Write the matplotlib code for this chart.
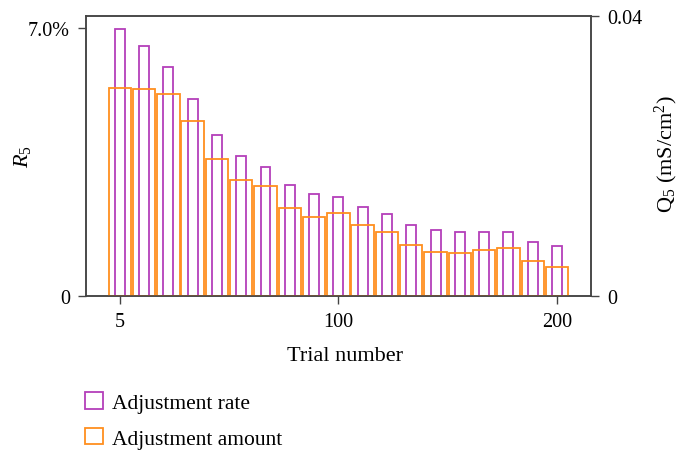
import numpy as np
import matplotlib
matplotlib.use("Agg")
import matplotlib.pyplot as plt
from matplotlib.patches import Patch

plt.rcParams['font.family'] = ['Liberation Serif', 'DejaVu Serif']
plt.rcParams['mathtext.fontset'] = 'custom'
plt.rcParams['mathtext.rm'] = 'Liberation Serif'
plt.rcParams['mathtext.it'] = 'Liberation Serif:italic'

# adjustment rate (%), left axis
rate = [6.97, 6.52, 5.99, 5.15, 4.20, 3.66, 3.37, 2.89, 2.66, 2.59,
        2.32, 2.13, 1.86, 1.73, 1.67, 1.67, 1.67, 1.42, 1.31]
# adjustment amount (mS/cm^2), right axis
amount = [0.0297, 0.0295, 0.0288, 0.0250, 0.0195, 0.0166, 0.0157, 0.0125, 0.0113, 0.0119,
          0.0102, 0.0092, 0.0073, 0.0063, 0.0061, 0.0065, 0.0069, 0.0050, 0.0041]
tick_idx = [0, 9, 18]
tick_labels = ['5', '100', '200']

purple = '#b43fba'
orange = '#ff8f1f'
spine_c = '#444444'

x = np.arange(len(rate))

fig = plt.figure(figsize=(6.8, 4.52), dpi=100)
ax = fig.add_axes([0.1265, 0.343, 0.7426, 0.6195])
ax2 = ax.twinx()

ax.bar(x, rate, width=0.41, fill=False, edgecolor=purple, linewidth=1.3)
ax2.bar(x, amount, width=0.92, fill=False, edgecolor=orange, linewidth=1.3)

ax.set_xlim(-1.39, 19.4)
ax.set_ylim(0, 7.31)
ax2.set_ylim(0, 0.04)

ax.set_xticks(tick_idx)
ax.set_xticklabels(tick_labels)
ax.set_yticks([0, 7.0])
ax.set_yticklabels(['0', '7.0%'])
ax2.set_yticks([0, 0.04])
ax2.set_yticklabels(['0', '0.04'])

for a in (ax, ax2):
    for s in a.spines.values():
        s.set_color(spine_c)
        s.set_linewidth(1.1)
    a.tick_params(direction='out', length=5.5, width=1.0, color=spine_c,
                  labelsize=14.5, pad=6)

ax.set_xlabel('Trial number', fontsize=16)
ax.xaxis.set_label_coords(0.513, -0.178)
ax.set_ylabel(r'$R_5$', fontsize=16)
ax.yaxis.set_label_coords(-0.105, 0.5)
ax2.set_ylabel(r'Q$_5$ (mS/cm$^2$)', fontsize=16)
ax2.yaxis.set_label_coords(1.122, 0.51)

handles = [Patch(facecolor='none', edgecolor=purple, linewidth=1.3, label='Adjustment rate'),
           Patch(facecolor='none', edgecolor=orange, linewidth=1.3, label='Adjustment amount')]
fig.legend(handles=handles, loc='upper left', bbox_to_anchor=(0.125, 0.13),
           frameon=False, fontsize=15.5, handlelength=0.85, handleheight=0.8,
           handletextpad=0.4, labelspacing=0.7, borderpad=0, borderaxespad=0)

fig.savefig('out.png', dpi=100)
